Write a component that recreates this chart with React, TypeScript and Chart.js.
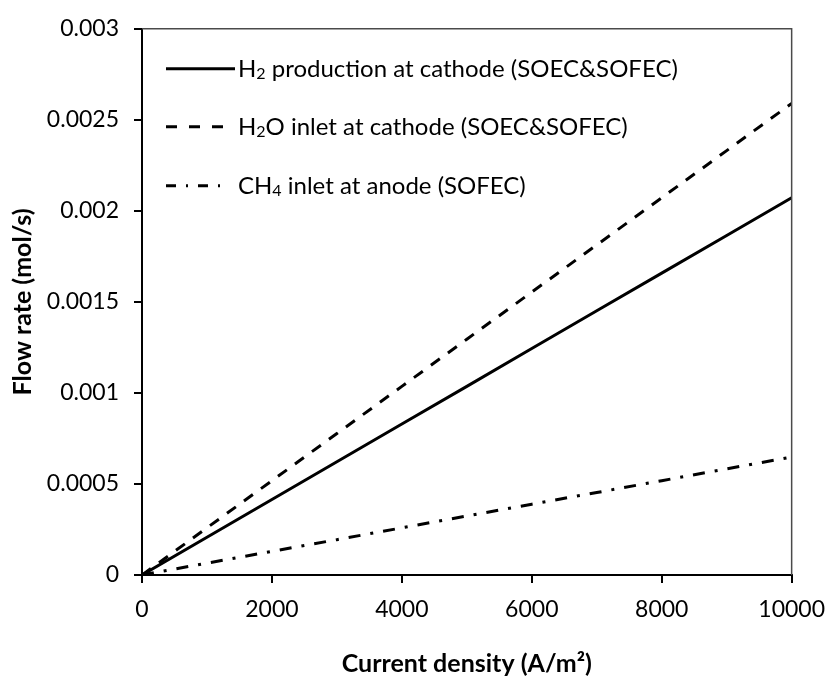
import React, { useEffect, useRef } from "react";
import { Chart, registerables } from "chart.js";

Chart.register(...registerables);

const currentDensity = [0, 1000, 2000, 3000, 4000, 5000, 6000, 7000, 8000, 9000, 10000];
const h2Production = [0, 0.000207, 0.000415, 0.000622, 0.000829, 0.001036, 0.001244, 0.001451, 0.001658, 0.001865, 0.002072];
const h2oInlet = [0, 0.000259, 0.000518, 0.000777, 0.001036, 0.001295, 0.001554, 0.001813, 0.002072, 0.002331, 0.00259];
const ch4Inlet = [0, 0.000065, 0.00013, 0.000194, 0.000259, 0.000324, 0.000389, 0.000453, 0.000518, 0.000583, 0.000648];

const seriesLabels = [
  "H₂ production at cathode (SOEC&SOFEC)",
  "H₂O inlet at cathode (SOEC&SOFEC)",
  "CH₄ inlet at anode (SOFEC)",
];
// legend text split into normal / subscript runs
const legendRuns: [string, boolean][][] = [
  [["H", false], ["2", true], [" production at cathode (SOEC&SOFEC)", false]],
  [["H", false], ["2", true], ["O inlet at cathode (SOEC&SOFEC)", false]],
  [["CH", false], ["4", true], [" inlet at anode (SOFEC)", false]],
];

const xTickValues = [0, 2000, 4000, 6000, 8000, 10000];
const xTickLabels = ["0", "2000", "4000", "6000", "8000", "10000"];
const yTickValues = [0, 0.0005, 0.001, 0.0015, 0.002, 0.0025, 0.003];
const yTickLabels = ["0", "0.0005", "0.001", "0.0015", "0.002", "0.0025", "0.003"];

const xTitle = "Current density (A/m²)";
const yTitle = "Flow rate (mol/s)";

const FONT = "Lato";
const dashes: number[][] = [[], [11, 10], [12, 10, 3, 10]];
const legendDashes: number[][] = [[], [11, 12], [10, 10, 2, 10]];
const legendSampleLen = [69, 57, 56];

const legendPlugin = {
  id: "customLegend",
  afterDatasetsDraw(chart: any) {
    const { ctx, chartArea } = chart;
    ctx.save();
    // frame (top and right)
    ctx.strokeStyle = "#4a4a4a";
    ctx.lineWidth = 1.5;
    ctx.setLineDash([]);
    ctx.beginPath();
    ctx.moveTo(chartArea.left, chartArea.top);
    ctx.lineTo(chartArea.right, chartArea.top);
    ctx.lineTo(chartArea.right, chartArea.bottom);
    ctx.stroke();

    const rowsY = [40, 98, 157];
    const x0 = chartArea.left + 24;
    const textX = chartArea.left + 96;
    ctx.fillStyle = "#000";
    ctx.textBaseline = "middle";
    ctx.textAlign = "left";
    legendRuns.forEach((runs, i) => {
      const y = chartArea.top + rowsY[i];
      ctx.strokeStyle = "#000";
      ctx.lineWidth = 3;
      ctx.setLineDash(legendDashes[i]);
      ctx.beginPath();
      ctx.moveTo(x0, y);
      ctx.lineTo(x0 + legendSampleLen[i], y);
      ctx.stroke();
      ctx.setLineDash([]);
      let x = textX;
      runs.forEach(([t, sub]) => {
        ctx.font = sub ? `16px ${FONT}` : `24px ${FONT}`;
        ctx.fillText(t, x, sub ? y + 5 : y);
        x += ctx.measureText(t).width;
      });
    });
    ctx.restore();
  },
};

export default function App() {
  const ref = useRef<HTMLCanvasElement>(null);
  useEffect(() => {
    if (!ref.current) return;
    const mk = (data: number[]) => currentDensity.map((x, i) => ({ x, y: data[i] }));
    const chart = new Chart(ref.current, {
      type: "line",
      data: {
        datasets: [h2Production, h2oInlet, ch4Inlet].map((d, i) => ({
          label: seriesLabels[i],
          data: mk(d),
          borderColor: "#000",
          borderWidth: 3,
          borderDash: dashes[i],
          pointRadius: 0,
          fill: false,
          tension: 0,
        })),
      },
      options: {
        responsive: false,
        animation: false,
        layout: { padding: { top: 24, right: 36, left: 0, bottom: 0 } },
        plugins: { legend: { display: false }, tooltip: { enabled: false } },
        scales: {
          x: {
            type: "linear",
            min: 0,
            max: 10000,
            afterBuildTicks: (s: any) => {
              s.ticks = xTickValues.map((v) => ({ value: v }));
            },
            afterFit: (s: any) => {
              s.height = 102;
            },
            ticks: {
              color: "#000",
              font: { family: FONT, size: 23 },
              padding: 13,
              maxRotation: 0,
              autoSkip: false,
              callback: (_v: any, i: number) => xTickLabels[i],
            },
            grid: { drawOnChartArea: false, drawTicks: true, tickLength: 8, color: "#000", lineWidth: 2 },
            border: { display: true, color: "#000", width: 2 },
            title: {
              display: true,
              text: xTitle,
              color: "#000",
              font: { family: FONT, size: 25, weight: "bold", lineHeight: 1 },
              padding: { top: 0, bottom: 1 },
            },
          },
          y: {
            type: "linear",
            min: 0,
            max: 0.003,
            afterBuildTicks: (s: any) => {
              s.ticks = yTickValues.map((v) => ({ value: v }));
            },
            afterFit: (s: any) => {
              s.width = 142;
            },
            ticks: {
              color: "#000",
              font: { family: FONT, size: 23 },
              padding: 15,
              autoSkip: false,
              callback: (_v: any, i: number) => yTickLabels[i],
            },
            grid: { drawOnChartArea: false, drawTicks: true, tickLength: 8, color: "#000", lineWidth: 2 },
            border: { display: true, color: "#000", width: 2 },
            title: {
              display: true,
              text: yTitle,
              color: "#000",
              font: { family: FONT, size: 25, weight: "bold", lineHeight: 1 },
              padding: { top: 10, bottom: 0 },
            },
          },
        },
      },
      plugins: [legendPlugin],
    });
    return () => chart.destroy();
  }, []);
  return (
    <div style={{ position: "absolute", left: 0, top: 0, width: 838, height: 677, background: "#fff" }}>
      <canvas ref={ref} width={838} height={677} style={{ display: "block" }} />
    </div>
  );
}
